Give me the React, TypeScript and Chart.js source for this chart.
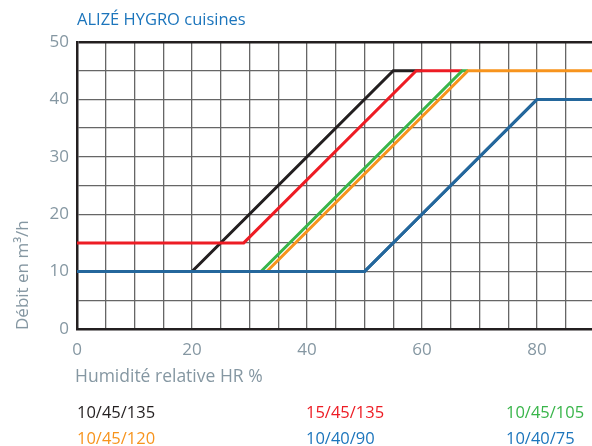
import React, { useEffect, useRef } from "react";
import { Chart, registerables } from "chart.js";

Chart.register(...registerables);

const chartTitle = "ALIZÉ HYGRO cuisines";
const xAxisTitle = "Humidité relative HR %";
const yAxisTitle = "Débit en m³/h";

const seriesNames = ["10/45/135", "15/45/135", "10/45/105", "10/45/120", "10/40/90", "10/40/75"];
const seriesColors = ["#231f20", "#ed1c24", "#39b54a", "#f7941d", "#24679c", "#24679c"];
const legendColors = ["#231f20", "#ed1c24", "#39b54a", "#f7941d", "#1c75bc", "#1c75bc"];

// humidity (x) and flow (y) break points of each curve
const hr_10_45_135 = [0, 20, 55, 60];
const q_10_45_135 = [10, 10, 45, 45];
const hr_15_45_135 = [0, 29, 59, 67];
const q_15_45_135 = [15, 15, 45, 45];
const hr_10_45_105 = [0, 32, 67, 68];
const q_10_45_105 = [10, 10, 45, 45];
const hr_10_45_120 = [0, 33, 68, 90];
const q_10_45_120 = [10, 10, 45, 45];
const hr_10_40_90 = [0, 50, 80, 90];
const q_10_40_90 = [10, 10, 40, 40];
const hr_10_40_75 = [0, 50, 80, 90];
const q_10_40_75 = [10, 10, 40, 40];

const xTickLabels = [0, 20, 40, 60, 80];
const yTickLabels = [0, 10, 20, 30, 40, 50];

const seriesX = [hr_10_45_135, hr_15_45_135, hr_10_45_105, hr_10_45_120, hr_10_40_90, hr_10_40_75];
const seriesY = [q_10_45_135, q_15_45_135, q_10_45_105, q_10_45_120, q_10_40_90, q_10_40_75];
const drawOrder = [5, 4, 3, 2, 1, 0];

const FONT = "'Open Sans', sans-serif";
const TICK_COLOR = "#8597a2";
const GRID_COLOR = "#666666";
const DARK = "#231f20";

export default function App() {
  const ref = useRef<HTMLCanvasElement | null>(null);

  useEffect(() => {
    if (!ref.current) return;
    const datasets = seriesNames.map((name, i) => ({
      label: name,
      data: seriesX[i].map((x, j) => ({ x, y: seriesY[i][j] })),
      borderColor: seriesColors[i],
      backgroundColor: seriesColors[i],
      borderWidth: 3,
      pointRadius: 0,
      tension: 0,
      fill: false,
      order: drawOrder[i],
    }));
    const chart = new Chart(ref.current, {
      type: "line",
      data: { datasets },
      options: {
        animation: false,
        responsive: false,
        maintainAspectRatio: false,
        layout: { padding: { top: 42, left: 0, right: 25.5, bottom: 0 } },
        plugins: { legend: { display: false }, tooltip: { enabled: false }, title: { display: false } },
        scales: {
          x: {
            type: "linear",
            min: 0,
            max: 90,
            afterFit: (s: any) => {
              s.height = 117;
            },
            ticks: {
              stepSize: 5,
              autoSkip: false,
              maxRotation: 0,
              padding: 11,
              color: TICK_COLOR,
              font: { family: FONT, size: 17 },
              callback: (v: any) => (xTickLabels.includes(Number(v)) ? String(v) : ""),
            },
            grid: { drawTicks: false, color: GRID_COLOR, lineWidth: 1.3 },
            border: { display: true, color: DARK, width: 2.5 },
          },
          y: {
            type: "linear",
            min: 0,
            max: 50,
            afterFit: (s: any) => {
              s.width = 77;
            },
            ticks: {
              stepSize: 5,
              autoSkip: false,
              padding: 8,
              color: TICK_COLOR,
              font: { family: FONT, size: 17 },
              callback: (v: any) => (yTickLabels.includes(Number(v)) ? String(v) : ""),
            },
            grid: {
              drawTicks: false,
              color: (c: any) => (c.tick && c.tick.value === 50 ? DARK : GRID_COLOR),
              lineWidth: (c: any) => (c.tick && c.tick.value === 50 ? 2.5 : 1.3),
            },
            border: { display: true, color: DARK, width: 2.5 },
          },
        },
      },
    });
    return () => chart.destroy();
  }, []);

  const legendCols = [77, 306, 506];
  const legendRows = [403.5, 429.5];

  return (
    <div
      style={{
        position: "fixed",
        left: 0,
        top: 0,
        width: 592,
        height: 446,
        overflow: "hidden",
        background: "#ffffff",
        fontFamily: FONT,
      }}
    >
      <canvas ref={ref} width={620} height={446} style={{ position: "absolute", left: 0, top: 0, width: 620, height: 446 }} />
      <div
        style={{
          position: "absolute",
          left: 77,
          top: 11,
          fontSize: 16.5,
          lineHeight: "16.5px",
          color: "#1c75bc",
          whiteSpace: "nowrap",
        }}
      >
        {chartTitle}
      </div>
      <div
        style={{
          position: "absolute",
          left: 75,
          top: 366.5,
          fontSize: 17.5,
          lineHeight: "17.5px",
          color: TICK_COLOR,
          whiteSpace: "nowrap",
        }}
      >
        {xAxisTitle}
      </div>
      <div
        style={{
          position: "absolute",
          left: 13,
          top: 330,
          fontSize: 17,
          lineHeight: "17px",
          color: TICK_COLOR,
          whiteSpace: "nowrap",
          transformOrigin: "0 0",
          transform: "rotate(-90deg)",
        }}
      >
        {yAxisTitle}
      </div>
      {seriesNames.map((name, i) => (
        <div
          key={name}
          style={{
            position: "absolute",
            left: legendCols[i % 3],
            top: legendRows[Math.floor(i / 3)],
            fontSize: 16.5,
            lineHeight: "16.5px",
            color: legendColors[i],
            whiteSpace: "nowrap",
          }}
        >
          {name}
        </div>
      ))}
    </div>
  );
}
